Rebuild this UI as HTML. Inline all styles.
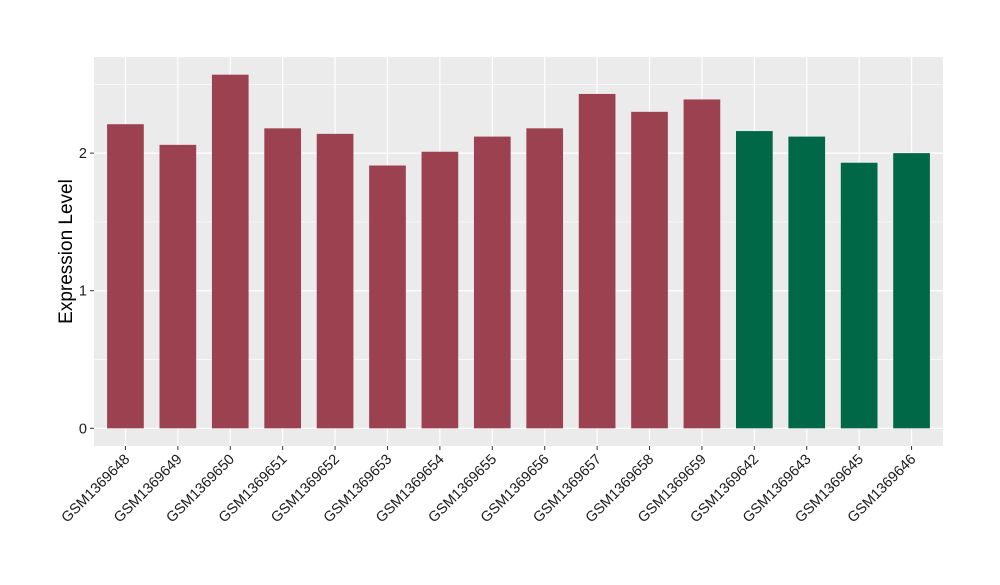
<!DOCTYPE html>
<html><head><meta charset="utf-8"><style>
body{margin:0;background:#fff;}
svg text{font-family:"Liberation Sans",sans-serif;}
</style></head><body>
<svg id="chart" width="1000" height="580"></svg>
<script>
const categories=["GSM1369648","GSM1369649","GSM1369650","GSM1369651","GSM1369652","GSM1369653","GSM1369654","GSM1369655","GSM1369656","GSM1369657","GSM1369658","GSM1369659","GSM1369642","GSM1369643","GSM1369645","GSM1369646"];
const values=[2.21,2.06,2.57,2.18,2.14,1.91,2.01,2.12,2.18,2.43,2.30,2.39,2.16,2.12,1.93,2.00];
const groups=["a","a","a","a","a","a","a","a","a","a","a","a","b","b","b","b"];
const yTicks=[0,1,2];
const yMinor=[0.5,1.5,2.5];
const NS="http://www.w3.org/2000/svg";
const svg=document.getElementById('chart');
const L=94,R=943,T=57,B=446;
const maxV=Math.max(...values);
const yMin=-0.05*maxV,yMax=maxV*1.05;
const y=v=>B-(v-yMin)/(yMax-yMin)*(B-T);
const step=(R-L)/(categories.length-1+1.2);
const x=i=>L+step*(0.6+i);
const bw=step*0.7;
function el(t,a){const e=document.createElementNS(NS,t);for(const k in a)e.setAttribute(k,a[k]);svg.appendChild(e);return e;}
let p=el('rect',{x:L,y:T,width:R-L,height:B-T,fill:'#EBEBEB'});


yMinor.forEach(v=>{const g=el('line',{x1:L,x2:R,y1:y(v),y2:y(v),stroke:'#fff','stroke-width':0.6});

});
yTicks.forEach(v=>{const g=el('line',{x1:L,x2:R,y1:y(v),y2:y(v),stroke:'#fff','stroke-width':1.2});


const tk=el('line',{x1:L-4,x2:L,y1:y(v),y2:y(v),stroke:'#333','stroke-width':1});


const t=el('text',{x:L-7,y:y(v)+5,'text-anchor':'end','font-size':14.5,fill:'#1a1a1a'});t.textContent=v;

});
categories.forEach((c,i)=>{const g=el('line',{x1:x(i),x2:x(i),y1:T,y2:B,stroke:'#fff','stroke-width':1.2});

});
categories.forEach((c,i)=>{
const b=el('rect',{x:x(i)-bw/2,y:y(values[i]),width:bw,height:y(0)-y(values[i]),fill:groups[i]==='a'?'#9B4150':'#006846'});


const tk=el('line',{x1:x(i),x2:x(i),y1:B,y2:B+4,stroke:'#333','stroke-width':1});


const t=el('text',{x:x(i)+5,y:B+14,'text-anchor':'end','font-size':14.5,fill:'#1a1a1a',transform:`rotate(-45 ${x(i)+5} ${B+14})`});t.textContent=c;

});
const yt=el('text',{x:0,y:0,'text-anchor':'middle','font-size':19,fill:'#000',transform:`translate(72 ${(T+B)/2}) rotate(-90)`});yt.textContent='Expression Level';


</script></body></html>
